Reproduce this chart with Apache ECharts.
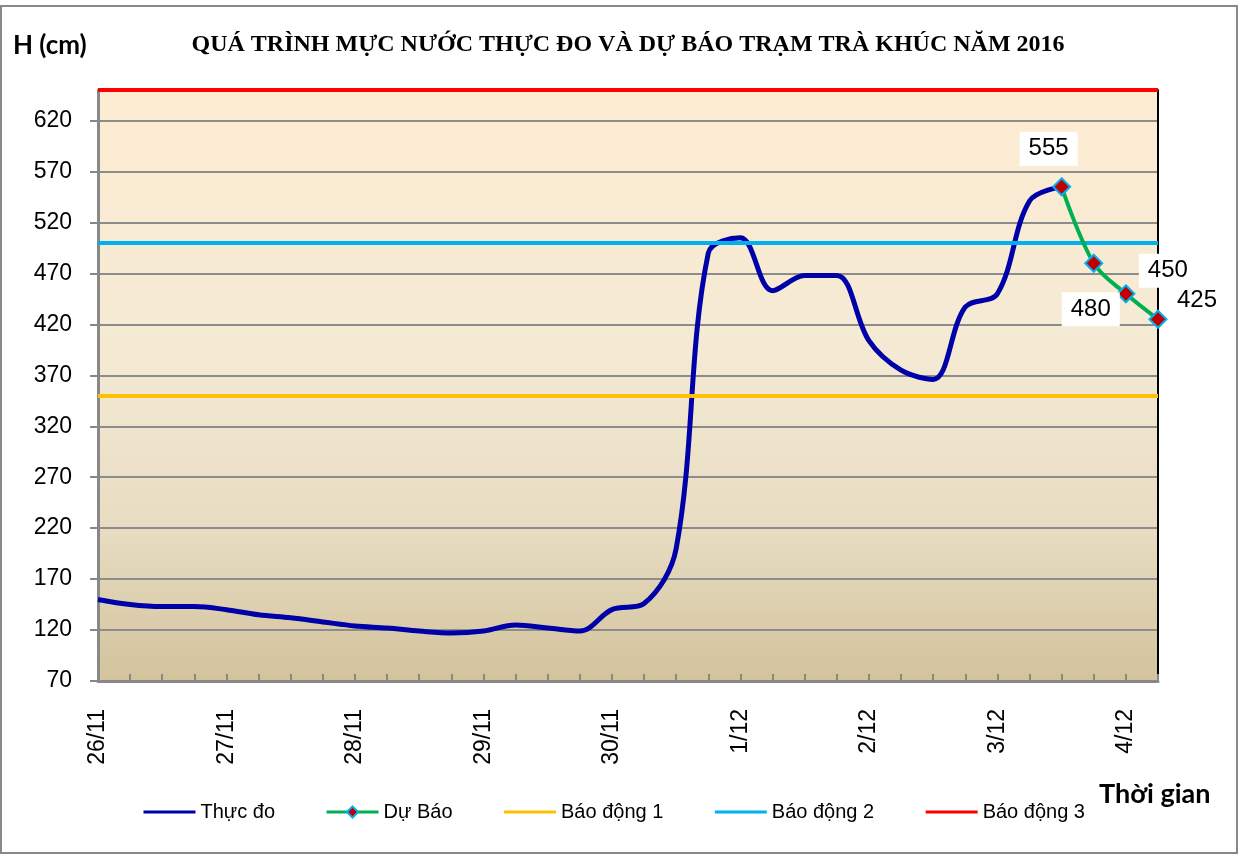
<!DOCTYPE html>
<html>
<head>
<meta charset="utf-8">
<title>Trạm Trà Khúc 2016</title>
<script src="https://cdn.jsdelivr.net/npm/echarts@6/dist/echarts.min.js"></script>
<style>
  html, body { margin: 0; padding: 0; background: #fff; }
  #main { width: 1240px; height: 856px; }
</style>
</head>
<body>
<div id="main"></div>
<script>
// 6-hourly steps, 26/11 00h -> 4/12 06h
const categories = [
  "26/11", "", "", "", "27/11", "", "", "", "28/11", "", "", "",
  "29/11", "", "", "", "30/11", "", "", "", "1/12", "", "", "",
  "2/12", "", "", "", "3/12", "", "", "", "4/12", ""
];
const measured = [
  150, 145, 143, 143, 140, 135, 132, 128, 124, 122, 119, 117,
  119, 125, 122, 119, 140, 146, 200, 490, 505, 453, 468, 468,
  404, 375, 366, 437, 450, 541, 555
];
const forecastStart = 30;
const forecast = [555, 480, 450, 425];
const alarm1 = 350;
const alarm2 = 500;
const alarm3 = 650;
const yTicks = { min: 70, max: 650, interval: 50 };

// where Excel dropped the value labels (pixels from the point)
const labelOffsets = [[-13, -38], [-3, 46], [42, -23], [39, -19]];

const forecastData = categories.map((_, i) => {
  const k = i - forecastStart;
  if (k < 0 || k >= forecast.length) return null;
  return { value: forecast[k], label: { offset: labelOffsets[k] } };
});

function alarmSeries(name, level, color) {
  return {
    name: name,
    type: "line",
    data: [],
    symbol: "none",
    lineStyle: { color: color, width: 4 },
    itemStyle: { color: color },
    markLine: {
      silent: true,
      symbol: "none",
      label: { show: false },
      lineStyle: { color: color, width: 4, type: "solid" },
      data: [{ yAxis: level }],
    },
  };
}

// plain line in the legend, no marker
const noMarker = { color: "rgba(0,0,0,0)", borderWidth: 0 };

const chart = echarts.init(document.getElementById("main"));
chart.setOption({
  animation: false,
  title: {
    text: "QUÁ TRÌNH MỰC NƯỚC THỰC ĐO VÀ DỰ BÁO TRẠM TRÀ KHÚC NĂM 2016",
    left: 623,
    textAlign: "center",
    top: 28,
    textStyle: { fontFamily: "Liberation Serif", fontWeight: "bold", fontSize: 24, color: "#000" },
  },
  grid: {
    left: 98, right: 82, top: 90, bottom: 175,
    show: true, borderWidth: 0,
    backgroundColor: new echarts.graphic.LinearGradient(0, 0, 0, 1, [
      { offset: 0, color: "#FDECD2" },
      { offset: 0.45, color: "#F4EAD4" },
      { offset: 0.75, color: "#E7DCC1" },
      { offset: 1, color: "#D3C39D" },
    ]),
  },
  legend: {
    left: 137, top: 797,
    itemWidth: 52, itemHeight: 14, itemGap: 50,
    lineStyle: { width: 3 },
    textStyle: { fontFamily: "Liberation Sans", fontSize: 20, color: "#000" },
    data: [
      { name: "Thực đo", itemStyle: noMarker },
      { name: "Dự Báo" },
      { name: "Báo động 1", itemStyle: noMarker },
      { name: "Báo động 2", itemStyle: noMarker },
      { name: "Báo động 3", itemStyle: noMarker },
    ],
  },
  xAxis: {
    type: "category",
    data: categories,
    boundaryGap: false,
    axisLine: { lineStyle: { color: "#888", width: 3 } },
    axisTick: { inside: true, length: 7, interval: 0, lineStyle: { color: "#888", width: 2 } },
    axisLabel: {
      interval: 0, rotate: 90, margin: 28,
      fontFamily: "Liberation Sans", fontSize: 23, color: "#000",
    },
    splitLine: { show: false },
  },
  yAxis: [
    {
      type: "value",
      min: yTicks.min, max: yTicks.max, interval: yTicks.interval,
      axisLine: { show: true, lineStyle: { color: "#888", width: 3 } },
      axisTick: { show: true, length: 8, lineStyle: { color: "#888", width: 2 } },
      axisLabel: {
        margin: 26, showMaxLabel: false,
        fontFamily: "Liberation Sans", fontSize: 23, color: "#000",
      },
      splitLine: { lineStyle: { color: "#8C8C8C", width: 2 } },
    },
    {
      type: "value", position: "right",
      min: yTicks.min, max: yTicks.max, interval: yTicks.interval,
      axisLine: { show: true, lineStyle: { color: "#000", width: 2 } },
      axisTick: { show: false },
      axisLabel: { show: false },
      splitLine: { show: false },
    },
  ],
  series: [
    {
      name: "Thực đo",
      type: "line",
      data: measured,
      smooth: 0.35,
      symbol: "none",
      lineStyle: { color: "#0000A8", width: 5 },
      itemStyle: { color: "#0000A8" },
    },
    {
      name: "Dự Báo",
      type: "line",
      data: forecastData,
      smooth: 0.35,
      symbol: "diamond",
      symbolSize: 17,
      lineStyle: { color: "#00B050", width: 4 },
      itemStyle: { color: "#C00000", borderColor: "#00B0F0", borderWidth: 2 },
      label: {
        show: true, position: "inside",
        fontFamily: "Liberation Sans", fontSize: 24, color: "#000",
        backgroundColor: "#fff", padding: [5, 9],
      },
      z: 5,
    },
    alarmSeries("Báo động 1", alarm1, "#FFC000"),
    alarmSeries("Báo động 2", alarm2, "#00B0F0"),
    alarmSeries("Báo động 3", alarm3, "#FF0000"),
  ],
  graphic: [
    {
      type: "rect", silent: true,
      shape: { x: 1, y: 6, width: 1236, height: 847 },
      style: { fill: "none", stroke: "#888", lineWidth: 2 },
    },
    {
      type: "text", left: 13, top: 33,
      style: { text: "H (cm)", font: "bold 26px Lato", fill: "#000" },
    },
    {
      type: "text", left: 1099, top: 781,
      style: { text: "Thời gian", font: "bold 27px Lato", fill: "#000" },
    },
  ],
});
</script>
</body>
</html>
